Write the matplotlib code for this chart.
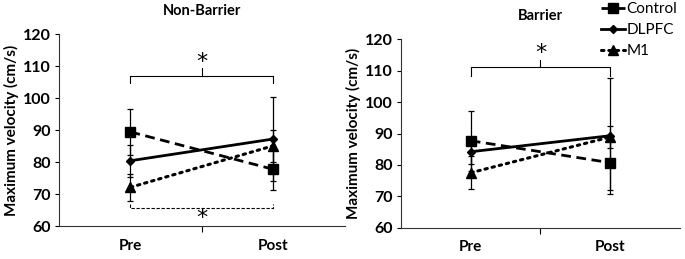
import numpy as np
import matplotlib
matplotlib.use("Agg")
import matplotlib.pyplot as plt

plt.rcParams['font.family'] = ['Lato', 'DejaVu Sans']

categories = ['Pre', 'Post']

# Non-Barrier panel
nb_control = [89.4, 77.7]
nb_control_err = [7.3, 6.5]
nb_dlpfc = [80.4, 87.2]
nb_dlpfc_err = [5.0, 13.2]
nb_m1 = [72.1, 85.1]
nb_m1_err = [4.2, 5.0]

# Barrier panel
b_control = [87.7, 80.7]
b_control_err = [9.5, 8.7]
b_dlpfc = [84.2, 89.3]
b_dlpfc_err = [4.0, 18.5]
b_m1 = [77.5, 88.9]
b_m1_err = [5.3, 3.6]

yticks = [60, 70, 80, 90, 100, 110, 120]


def draw_panel(ax, title, control, control_err, dlpfc, dlpfc_err, m1, m1_err):
    x = np.arange(len(categories))
    styles = [
        (control, control_err, 'Control', dict(ls=(0, (3.5, 2.0)), marker='s', ms=7, lw=2.0)),
        (dlpfc, dlpfc_err, 'DLPFC', dict(ls='-', marker='D', ms=4.5, lw=2.0)),
        (m1, m1_err, 'M1', dict(ls=(0, (0.8, 1.6)), marker='^', ms=6.5, lw=2.2, dash_capstyle='round')),
    ]
    handles = []
    for vals, errs, label, st in styles:
        ax.errorbar(x, vals, yerr=errs, fmt='none', ecolor='black', elinewidth=0.9,
                    capsize=2.2, capthick=0.9, zorder=2)
        h, = ax.plot(x, vals, color='black', mec='black', mfc='black', label=label, zorder=3, **st)
        handles.append(h)
    ax.set_xlim(-0.5, 1.5)
    ax.set_ylim(60, 120)
    ax.set_yticks(yticks)
    ax.set_xticks(x)
    ax.set_xticklabels(categories, fontsize=11, fontweight='bold')
    ax.set_xticks([0.5], minor=True)
    ax.tick_params(axis='x', which='major', length=0, pad=9)
    ax.tick_params(axis='x', which='minor', length=4, width=0.8, direction='out')
    ax.tick_params(axis='y', length=3, width=0.8, direction='out', pad=3)
    for lbl in ax.get_yticklabels():
        lbl.set_fontsize(11.5)
        lbl.set_fontweight('bold')
    ax.spines['top'].set_visible(False)
    ax.spines['right'].set_visible(False)
    ax.spines['left'].set_color('#333333')
    ax.spines['bottom'].set_color('#333333')
    ax.set_ylabel('Maximum velocity (cm/s)', fontsize=11, fontweight='bold', labelpad=3)
    ax.set_title(title, fontsize=10.5, fontweight='bold', pad=14)
    return handles


def bracket(ax, y, end, peak, star_y, ls='-'):
    ax.plot([0, 0, 1, 1], [end, y, y, end], color='black', lw=0.8, ls=ls, clip_on=False)
    ax.plot([0.5, 0.5], [y, peak], color='black', lw=0.8, clip_on=False)
    ax.text(0.5, star_y, '*', ha='center', va='center', fontsize=16,
            family='DejaVu Sans', clip_on=False)


fig = plt.figure(figsize=(6.85, 2.59), dpi=100)
ax1 = fig.add_axes([0.0861, 0.1274, 0.4175, 0.7413])
ax2 = fig.add_axes([0.5854, 0.1208, 0.4073, 0.7274])

draw_panel(ax1, 'Non-Barrier', nb_control, nb_control_err, nb_dlpfc, nb_dlpfc_err, nb_m1, nb_m1_err)
handles = draw_panel(ax2, 'Barrier', b_control, b_control_err, b_dlpfc, b_dlpfc_err, b_m1, b_m1_err)

bracket(ax1, 106.9, 104.6, 109.3, 111.2)
bracket(ax1, 65.7, 66.9, 64.7, 62.6, ls=(0, (3, 1.5)))
bracket(ax2, 111.3, 108.3, 113.4, 115.5)

fig.legend(handles=handles, loc='upper left', bbox_to_anchor=(0.868, 1.015),
           frameon=False, fontsize=11, labelspacing=0.45, handlelength=1.6,
           handletextpad=0.1, borderaxespad=0)

fig.savefig('out.png', dpi=100)
